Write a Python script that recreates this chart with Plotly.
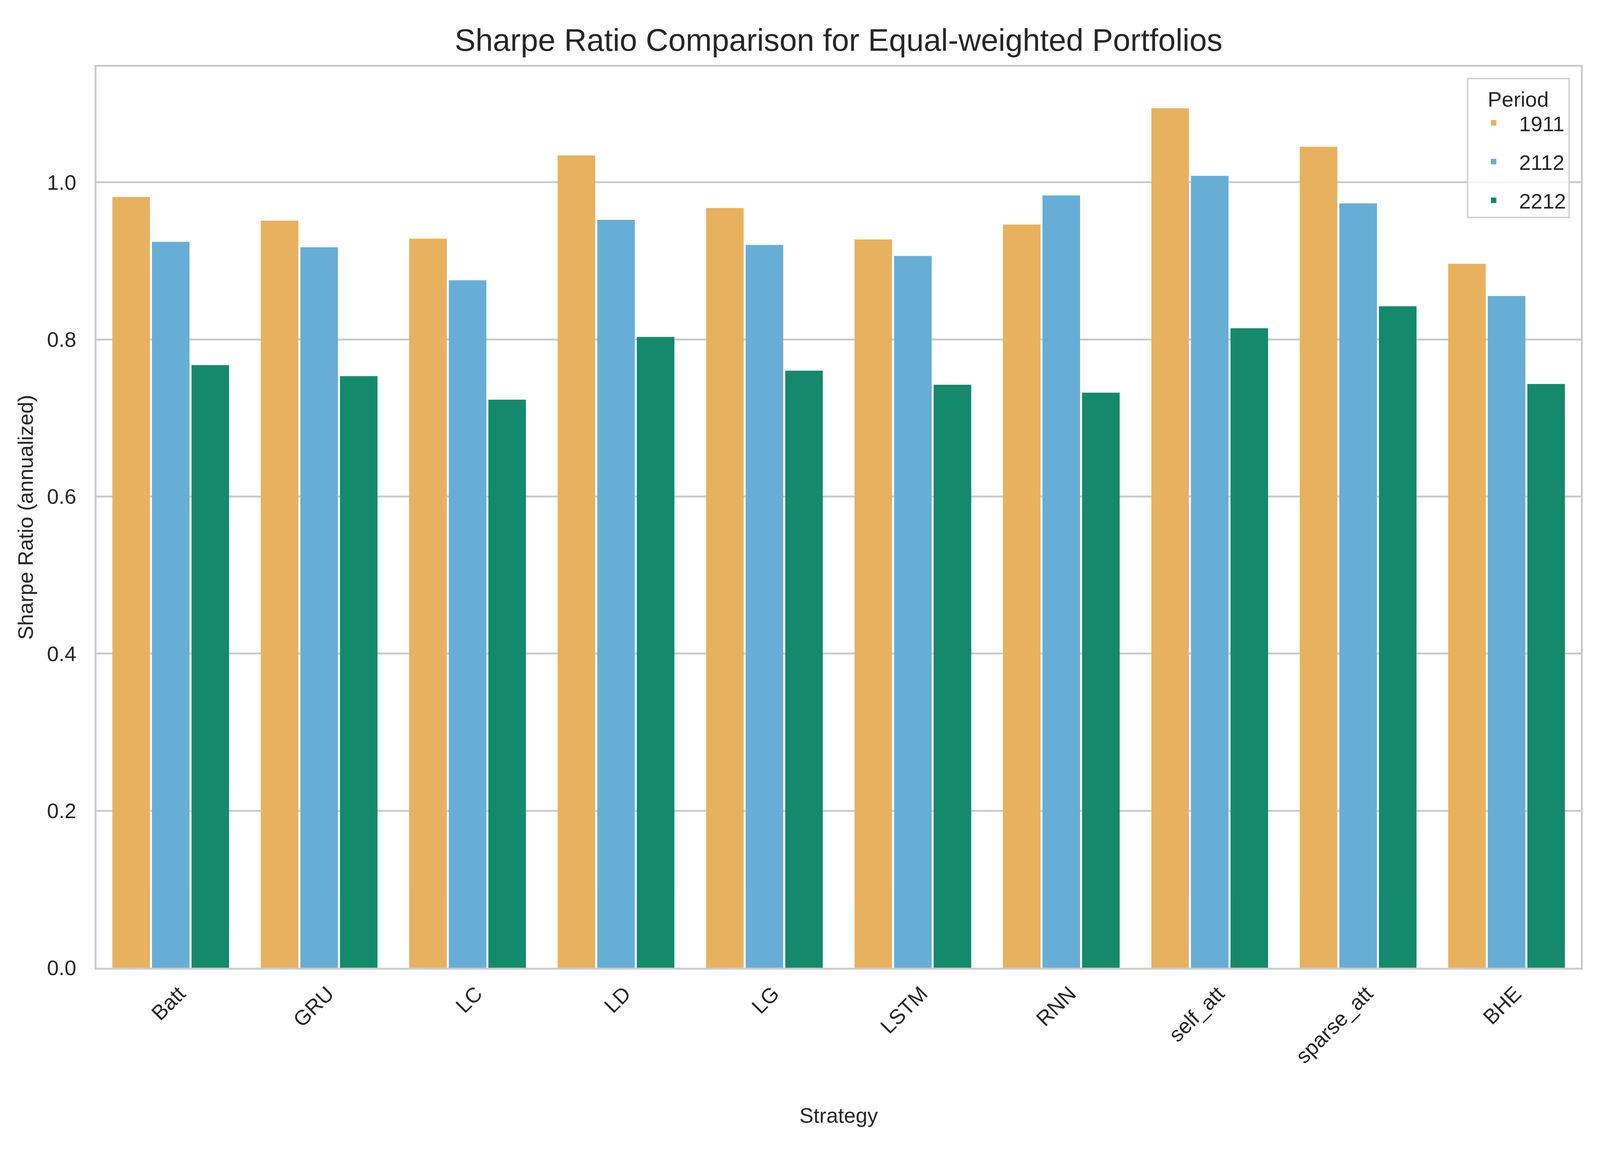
import plotly.graph_objects as go

strategies = ["Batt", "GRU", "LC", "LD", "LG", "LSTM", "RNN", "self_att", "sparse_att", "BHE"]
periods = ["1911", "2112", "2212"]
sharpe_1911 = [0.980, 0.950, 0.927, 1.033, 0.966, 0.926, 0.945, 1.093, 1.044, 0.895]
sharpe_2112 = [0.923, 0.916, 0.874, 0.951, 0.919, 0.905, 0.982, 1.007, 0.972, 0.854]
sharpe_2212 = [0.766, 0.752, 0.722, 0.802, 0.759, 0.741, 0.731, 0.813, 0.841, 0.742]
series = [sharpe_1911, sharpe_2112, sharpe_2212]
colors = ["#E8B15F", "#67AED7", "#15896C"]
y_ticks = [0.0, 0.2, 0.4, 0.6, 0.8, 1.0]

FONT = "Liberation Sans, Arial, sans-serif"
TXT = "#262626"
FS = 54      # tick / label / legend font size
FS_T = 80    # title font size

fig = go.Figure()
for name, vals, col in zip(periods, series, colors):
    fig.add_trace(go.Bar(
        x=strategies, y=vals, name=name, legendgroup=name,
        marker=dict(color=col, line=dict(color=col, width=5)),
    ))

fig.update_layout(
    autosize=True,
    barmode="group", bargap=0.2, bargroupgap=0.10,
    plot_bgcolor="white", paper_bgcolor="white",
    margin=dict(l=0, r=0, t=0, b=0, pad=0, autoexpand=False),
    font=dict(family=FONT, color=TXT, size=FS),
    title=dict(text="Sharpe Ratio Comparison for Equal-weighted Portfolios",
               x=0.5242, xref="container", xanchor="center",
               y=0.968, yref="container", yanchor="middle",
               font=dict(size=FS_T, family=FONT, color=TXT)),
    legend=dict(
        x=0.983, xanchor="right", y=0.935, yanchor="top",
        bgcolor="rgba(255,255,255,0.8)", bordercolor="#d4d4d4", borderwidth=4,
        title=dict(text="Period", side="top center", font=dict(size=FS, family=FONT, color=TXT)),
        font=dict(size=FS, family=FONT, color=TXT),
        itemsizing="constant", itemwidth=120, tracegroupgap=26,
        entrywidth=250, entrywidthmode="pixels",
    ),
)
fig.update_xaxes(
    domain=[0.0586, 0.9899],
    showline=True, mirror=True, linecolor="#cccccc", linewidth=5,
    showgrid=False, tickangle=-45, ticks="outside", ticklen=8, tickcolor="rgba(0,0,0,0)",
    ticklabelshift=22,
    tickfont=dict(size=FS, family=FONT, color=TXT),
    title=dict(text="Strategy", standoff=105, font=dict(size=FS, family=FONT, color=TXT)),
    automargin=False,
)
fig.update_yaxes(
    domain=[0.158, 0.9444],
    range=[0, 1.147], tickvals=y_ticks, tickformat=".1f",
    showline=True, mirror=True, linecolor="#cccccc", linewidth=5,
    showgrid=True, gridcolor="#cccccc", gridwidth=4.5, zeroline=False,
    ticks="outside", ticklen=36, tickcolor="rgba(0,0,0,0)",
    tickfont=dict(size=FS, family=FONT, color=TXT),
    title=dict(text="Sharpe Ratio (annualized)", standoff=20, font=dict(size=FS, family=FONT, color=TXT)),
    automargin=False,
)
fig.write_html("out.html")
